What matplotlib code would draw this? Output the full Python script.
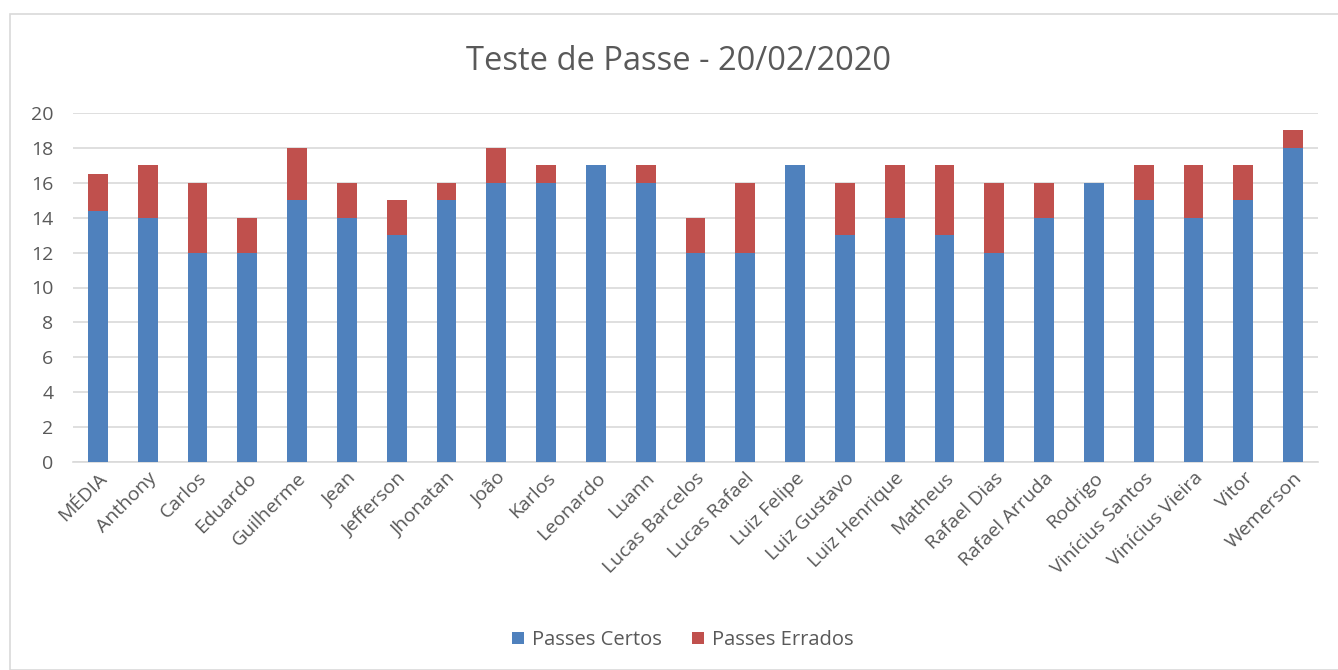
import matplotlib.pyplot as plt
from matplotlib.patches import Rectangle

nomes = ['MÉDIA', 'Anthony', 'Carlos', 'Eduardo', 'Guilherme', 'Jean', 'Jefferson',
         'Jhonatan', 'João', 'Karlos', 'Leonardo', 'Luann', 'Lucas Barcelos',
         'Lucas Rafael', 'Luiz Felipe', 'Luiz Gustavo', 'Luiz Henrique', 'Matheus',
         'Rafael Dias', 'Rafael Arruda', 'Rodrigo', 'Vinícius Santos',
         'Vinícius Vieira', 'Vitor', 'Wemerson']
certos = [14.4, 14, 12, 12, 15, 14, 13, 15, 16, 16, 17, 16, 12, 12, 17, 13, 14, 13, 12, 14, 16, 15, 14, 15, 18]
errados = [2.1, 3, 4, 2, 3, 2, 2, 1, 2, 1, 0, 1, 2, 4, 0, 3, 3, 4, 4, 2, 0, 2, 3, 2, 1]

plt.rcParams['font.family'] = ['Open Sans', 'DejaVu Sans']
cinza = '#595959'

fig = plt.figure(figsize=(13.38, 6.7), dpi=100)
# moldura cinza clara do gráfico
fig.patches.append(Rectangle((10 / 1338, 0), 1.0, 1 - 14 / 670, transform=fig.transFigure,
                             fill=False, edgecolor='#D9D9D9', linewidth=1.2))
ax = fig.add_axes([73 / 1338, 1 - 462 / 670, (1318 - 73) / 1338, (462 - 113) / 670])

x = range(len(nomes))
ax.bar(x, certos, width=0.4, color='#4F81BD', label='Passes Certos', zorder=3)
ax.bar(x, errados, width=0.4, bottom=certos, color='#C0504D', label='Passes Errados', zorder=3)

ax.set_xlim(-0.5, len(nomes) - 0.5)
ax.set_ylim(0, 20)
ax.set_yticks(range(0, 21, 2))
ax.grid(axis='y', color='#D9D9D9', linewidth=1.2, zorder=0)
for s in ['top', 'right', 'left']:
    ax.spines[s].set_visible(False)
ax.spines['bottom'].set_color('#D9D9D9')
ax.spines['bottom'].set_linewidth(1.2)
ax.tick_params(length=0, colors=cinza, labelsize=14)
ax.tick_params(axis='y', pad=14)
ax.tick_params(axis='x', pad=5)
ax.set_xticks(list(x))
ax.set_xticklabels(nomes, rotation=45, ha='right', rotation_mode='anchor')

fig.text(678 / 1338, 1 - 62 / 670, 'Teste de Passe - 20/02/2020', ha='center', va='center',
         fontsize=23.5, color=cinza)
fig.legend(loc='center', bbox_to_anchor=(683 / 1338, 1 - 640 / 670), ncol=2, frameon=False,
           fontsize=14.5, labelcolor=cinza, handlelength=0.6, handleheight=0.6,
           columnspacing=1.5, handletextpad=0.4)

plt.savefig('out.png', dpi=100)
